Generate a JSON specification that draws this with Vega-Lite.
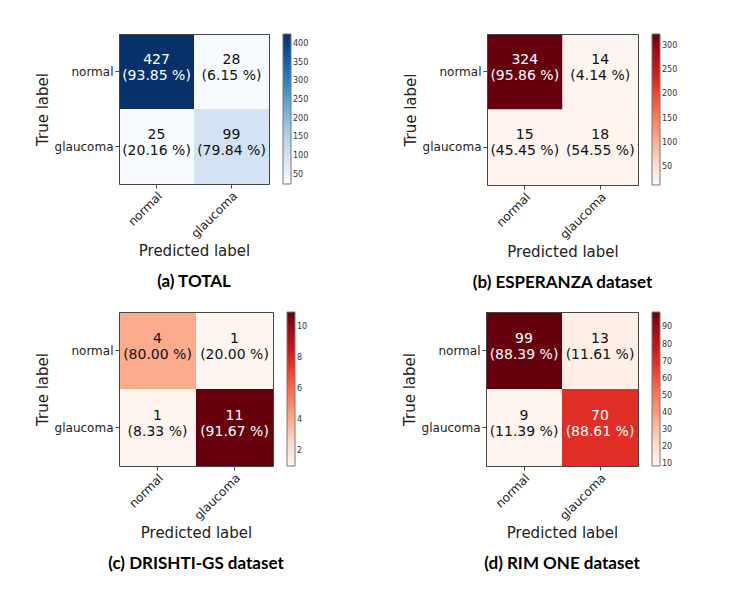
{
  "$schema": "https://vega.github.io/schema/vega-lite/v6.json",
  "padding": {"left": 35, "top": 34, "right": 5, "bottom": 5},
  "datasets": {
    "a": [
      {"actual": "normal", "predicted": "normal", "count": 427, "label": "427\n(93.85 %)"},
      {"actual": "normal", "predicted": "glaucoma", "count": 28, "label": "28\n(6.15 %)"},
      {"actual": "glaucoma", "predicted": "normal", "count": 25, "label": "25\n(20.16 %)"},
      {"actual": "glaucoma", "predicted": "glaucoma", "count": 99, "label": "99\n(79.84 %)"}
    ],
    "b": [
      {"actual": "normal", "predicted": "normal", "count": 324, "label": "324\n(95.86 %)"},
      {"actual": "normal", "predicted": "glaucoma", "count": 14, "label": "14\n(4.14 %)"},
      {"actual": "glaucoma", "predicted": "normal", "count": 15, "label": "15\n(45.45 %)"},
      {"actual": "glaucoma", "predicted": "glaucoma", "count": 18, "label": "18\n(54.55 %)"}
    ],
    "c": [
      {"actual": "normal", "predicted": "normal", "count": 4, "label": "4\n(80.00 %)"},
      {"actual": "normal", "predicted": "glaucoma", "count": 1, "label": "1\n(20.00 %)"},
      {"actual": "glaucoma", "predicted": "normal", "count": 1, "label": "1\n(8.33 %)"},
      {"actual": "glaucoma", "predicted": "glaucoma", "count": 11, "label": "11\n(91.67 %)"}
    ],
    "d": [
      {"actual": "normal", "predicted": "normal", "count": 99, "label": "99\n(88.39 %)"},
      {"actual": "normal", "predicted": "glaucoma", "count": 13, "label": "13\n(11.61 %)"},
      {"actual": "glaucoma", "predicted": "normal", "count": 9, "label": "9\n(11.39 %)"},
      {"actual": "glaucoma", "predicted": "glaucoma", "count": 70, "label": "70\n(88.61 %)"}
    ]
  },
  "config": {
    "font": "DejaVu Sans",
    "view": {"stroke": null},
    "axis": {
      "labelFont": "DejaVu Sans", "labelFontSize": 12, "labelColor": "#222",
      "titleFont": "DejaVu Sans", "titleFontSize": 15, "titleFontWeight": "normal", "titleColor": "#222",
      "domainColor": "#444", "tickColor": "#444", "tickSize": 4, "labelPadding": 2, "grid": false, "titlePadding": 4
    },
    "legend": {
      "gradientThickness": 8, "labelFontSize": 8, "labelColor": "#333", "labelFont": "DejaVu Sans",
      "gradientStrokeColor": "#777", "gradientStrokeWidth": 1, "offset": 14, "labelOverlap": false, "labelOffset": 5
    },
    "title": {"orient": "bottom", "font": "Lato", "fontWeight": "bold", "fontSize": 17, "color": "#000", "frame": "group", "anchor": "middle", "offset": 16}
  },
  "resolve": {"scale": {"color": "independent"}, "legend": {"color": "independent"}},
  "spacing": 20,
  "vconcat": [
    {
      "spacing": 94,
      "resolve": {"scale": {"color": "independent"}, "legend": {"color": "independent"}},
      "hconcat": [
        {
          "data": {"name": "a"},
          "width": 150, "height": 150,
          "title": {"text": "(a) TOTAL"},
          "transform": [{"joinaggregate": [{"op": "max", "field": "count", "as": "maxc"}]}],
          "layer": [
            {"mark": {"type": "rect"},
             "encoding": {
               "x": {"field": "predicted", "type": "nominal", "sort": ["normal", "glaucoma"], "title": "Predicted label", "scale": {"paddingInner": 0, "paddingOuter": 0}, "axis": {"labelAngle": -45}},
               "y": {"field": "actual", "type": "nominal", "sort": ["normal", "glaucoma"], "title": "True label", "scale": {"paddingInner": 0, "paddingOuter": 0}},
               "color": {"field": "count", "type": "quantitative",
                 "scale": {"domain": [25, 427], "nice": false, "zero": false, "range": ["#f7fbff", "#deebf7", "#c6dbef", "#9ecae1", "#6baed6", "#4292c6", "#2171b5", "#08519c", "#08306b"]},
                 "legend": {"title": null, "type": "gradient", "gradientLength": 150, "values": [50, 100, 150, 200, 250, 300, 350, 400]}}
             }},
            {"mark": {"type": "text", "fontSize": 14, "lineBreak": "\n", "lineHeight": 16, "font": "DejaVu Sans", "dy": -12},
             "encoding": {
               "x": {"field": "predicted", "type": "nominal", "sort": ["normal", "glaucoma"], "axis": null},
               "y": {"field": "actual", "type": "nominal", "sort": ["normal", "glaucoma"], "axis": null},
               "text": {"field": "label"},
               "color": {"condition": {"test": "datum.count > datum.maxc / 2", "value": "#ffffff"}, "value": "#111111"}
             }},
            {"mark": {"type": "rect", "opacity": 0},
             "encoding": {
               "x": {"field": "predicted", "type": "nominal", "sort": ["normal", "glaucoma"], "axis": {"orient": "top", "labels": false, "ticks": false, "title": null}},
               "y": {"field": "actual", "type": "nominal", "sort": ["normal", "glaucoma"], "axis": {"orient": "right", "labels": false, "ticks": false, "title": null}}
             }}
          ],
          "resolve": {"axis": {"x": "independent", "y": "independent"}}
        },
        {
          "data": {"name": "b"},
          "width": 151, "height": 151,
          "title": {"text": "(b) ESPERANZA dataset"},
          "transform": [{"joinaggregate": [{"op": "max", "field": "count", "as": "maxc"}]}],
          "layer": [
            {"mark": {"type": "rect"},
             "encoding": {
               "x": {"field": "predicted", "type": "nominal", "sort": ["normal", "glaucoma"], "title": "Predicted label", "scale": {"paddingInner": 0, "paddingOuter": 0}, "axis": {"labelAngle": -45}},
               "y": {"field": "actual", "type": "nominal", "sort": ["normal", "glaucoma"], "title": "True label", "scale": {"paddingInner": 0, "paddingOuter": 0}},
               "color": {"field": "count", "type": "quantitative",
                 "scale": {"domain": [14, 324], "nice": false, "zero": false, "range": ["#fff5f0", "#fee0d2", "#fcbba1", "#fc9272", "#fb6a4a", "#ef3b2c", "#cb181d", "#a50f15", "#67000d"]},
                 "legend": {"title": null, "type": "gradient", "gradientLength": 151, "values": [50, 100, 150, 200, 250, 300]}}
             }},
            {"mark": {"type": "text", "fontSize": 14, "lineBreak": "\n", "lineHeight": 16, "font": "DejaVu Sans", "dy": -12},
             "encoding": {
               "x": {"field": "predicted", "type": "nominal", "sort": ["normal", "glaucoma"], "axis": null},
               "y": {"field": "actual", "type": "nominal", "sort": ["normal", "glaucoma"], "axis": null},
               "text": {"field": "label"},
               "color": {"condition": {"test": "datum.count > datum.maxc / 2", "value": "#ffffff"}, "value": "#111111"}
             }},
            {"mark": {"type": "rect", "opacity": 0},
             "encoding": {
               "x": {"field": "predicted", "type": "nominal", "sort": ["normal", "glaucoma"], "axis": {"orient": "top", "labels": false, "ticks": false, "title": null}},
               "y": {"field": "actual", "type": "nominal", "sort": ["normal", "glaucoma"], "axis": {"orient": "right", "labels": false, "ticks": false, "title": null}}
             }}
          ],
          "resolve": {"axis": {"x": "independent", "y": "independent"}}
        }
      ]
    },
    {
      "spacing": 94,
      "resolve": {"scale": {"color": "independent"}, "legend": {"color": "independent"}},
      "hconcat": [
        {
          "data": {"name": "c"},
          "width": 154, "height": 154,
          "title": {"text": "(c) DRISHTI-GS dataset"},
          "transform": [{"joinaggregate": [{"op": "max", "field": "count", "as": "maxc"}]}],
          "layer": [
            {"mark": {"type": "rect"},
             "encoding": {
               "x": {"field": "predicted", "type": "nominal", "sort": ["normal", "glaucoma"], "title": "Predicted label", "scale": {"paddingInner": 0, "paddingOuter": 0}, "axis": {"labelAngle": -45}},
               "y": {"field": "actual", "type": "nominal", "sort": ["normal", "glaucoma"], "title": "True label", "scale": {"paddingInner": 0, "paddingOuter": 0}},
               "color": {"field": "count", "type": "quantitative",
                 "scale": {"domain": [1, 11], "nice": false, "zero": false, "range": ["#fff5f0", "#fee0d2", "#fcbba1", "#fc9272", "#fb6a4a", "#ef3b2c", "#cb181d", "#a50f15", "#67000d"]},
                 "legend": {"title": null, "type": "gradient", "gradientLength": 154, "values": [2, 4, 6, 8, 10]}}
             }},
            {"mark": {"type": "text", "fontSize": 14, "lineBreak": "\n", "lineHeight": 16, "font": "DejaVu Sans", "dy": -12},
             "encoding": {
               "x": {"field": "predicted", "type": "nominal", "sort": ["normal", "glaucoma"], "axis": null},
               "y": {"field": "actual", "type": "nominal", "sort": ["normal", "glaucoma"], "axis": null},
               "text": {"field": "label"},
               "color": {"condition": {"test": "datum.count > datum.maxc / 2", "value": "#ffffff"}, "value": "#111111"}
             }},
            {"mark": {"type": "rect", "opacity": 0},
             "encoding": {
               "x": {"field": "predicted", "type": "nominal", "sort": ["normal", "glaucoma"], "axis": {"orient": "top", "labels": false, "ticks": false, "title": null}},
               "y": {"field": "actual", "type": "nominal", "sort": ["normal", "glaucoma"], "axis": {"orient": "right", "labels": false, "ticks": false, "title": null}}
             }}
          ],
          "resolve": {"axis": {"x": "independent", "y": "independent"}}
        },
        {
          "data": {"name": "d"},
          "width": 152, "height": 154,
          "title": {"text": "(d) RIM ONE dataset"},
          "transform": [{"joinaggregate": [{"op": "max", "field": "count", "as": "maxc"}]}],
          "layer": [
            {"mark": {"type": "rect"},
             "encoding": {
               "x": {"field": "predicted", "type": "nominal", "sort": ["normal", "glaucoma"], "title": "Predicted label", "scale": {"paddingInner": 0, "paddingOuter": 0}, "axis": {"labelAngle": -45}},
               "y": {"field": "actual", "type": "nominal", "sort": ["normal", "glaucoma"], "title": "True label", "scale": {"paddingInner": 0, "paddingOuter": 0}},
               "color": {"field": "count", "type": "quantitative",
                 "scale": {"domain": [9, 99], "nice": false, "zero": false, "range": ["#fff5f0", "#fee0d2", "#fcbba1", "#fc9272", "#fb6a4a", "#ef3b2c", "#cb181d", "#a50f15", "#67000d"]},
                 "legend": {"title": null, "type": "gradient", "gradientLength": 154, "values": [10, 20, 30, 40, 50, 60, 70, 80, 90]}}
             }},
            {"mark": {"type": "text", "fontSize": 14, "lineBreak": "\n", "lineHeight": 16, "font": "DejaVu Sans", "dy": -12},
             "encoding": {
               "x": {"field": "predicted", "type": "nominal", "sort": ["normal", "glaucoma"], "axis": null},
               "y": {"field": "actual", "type": "nominal", "sort": ["normal", "glaucoma"], "axis": null},
               "text": {"field": "label"},
               "color": {"condition": {"test": "datum.count > datum.maxc / 2", "value": "#ffffff"}, "value": "#111111"}
             }},
            {"mark": {"type": "rect", "opacity": 0},
             "encoding": {
               "x": {"field": "predicted", "type": "nominal", "sort": ["normal", "glaucoma"], "axis": {"orient": "top", "labels": false, "ticks": false, "title": null}},
               "y": {"field": "actual", "type": "nominal", "sort": ["normal", "glaucoma"], "axis": {"orient": "right", "labels": false, "ticks": false, "title": null}}
             }}
          ],
          "resolve": {"axis": {"x": "independent", "y": "independent"}}
        }
      ]
    }
  ]
}
